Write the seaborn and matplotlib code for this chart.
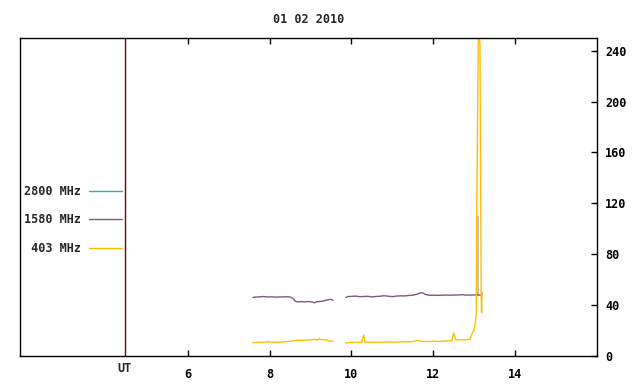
import matplotlib
matplotlib.use("Agg")
import matplotlib.pyplot as plt
import matplotlib.transforms as mtransforms
from matplotlib.lines import Line2D
import pandas as pd
import seaborn as sns

sns.set_style("white")
plt.rcParams['font.family'] = ['DejaVu Sans Mono']
plt.rcParams['font.weight'] = 'bold'

# 1580 MHz, two recording blocks (hours UT, sfu)
t1580_a = [7.59, 7.65, 7.75, 7.85, 7.95, 8.05, 8.15, 8.25, 8.35, 8.45, 8.52, 8.58, 8.62,
           8.68, 8.75, 8.85, 8.95, 9.05, 9.10, 9.15, 9.25, 9.35, 9.42, 9.50, 9.55]
v1580_a = [46.0, 46.3, 46.5, 46.8, 46.4, 46.5, 46.3, 46.4, 46.5, 46.6, 46.2, 45.0, 43.2,
           42.5, 42.8, 42.6, 42.8, 42.4, 41.8, 42.7, 42.9, 43.5, 44.3, 44.5, 43.8]
t1580_b = [9.86, 9.92, 10.0, 10.1, 10.2, 10.3, 10.4, 10.5, 10.6, 10.7, 10.8, 10.9, 11.0,
           11.1, 11.2, 11.3, 11.4, 11.5, 11.6, 11.7, 11.75, 11.8, 11.9, 12.0, 12.1, 12.2,
           12.3, 12.4, 12.5, 12.6, 12.7, 12.8, 12.9, 13.0, 13.1, 13.15, 13.2]
v1580_b = [46.0, 46.8, 46.9, 47.1, 46.6, 46.8, 46.9, 46.5, 46.8, 47.0, 47.4, 47.0, 46.7,
           47.1, 47.3, 47.2, 47.6, 47.8, 48.6, 49.8, 49.5, 48.5, 47.7, 47.8, 47.7, 47.8,
           47.9, 47.8, 47.9, 48.0, 48.2, 47.9, 47.9, 48.0, 48.0, 47.8, 48.5]

# 403 MHz
t403_a = [7.59, 7.65, 7.75, 7.85, 7.95, 8.05, 8.15, 8.25, 8.35, 8.45, 8.55, 8.62, 8.70,
          8.80, 8.90, 9.00, 9.10, 9.15, 9.20, 9.30, 9.40, 9.45, 9.55]
v403_a = [10.4, 10.6, 10.9, 10.7, 11.2, 10.9, 11.0, 10.8, 11.2, 11.4, 11.6, 12.3, 12.4,
          12.3, 12.5, 12.6, 13.2, 12.5, 13.4, 12.8, 12.6, 11.8, 11.5]
t403_b = [9.86, 9.95, 10.05, 10.15, 10.25, 10.30, 10.33, 10.45, 10.6, 10.75, 10.9, 11.05,
          11.2, 11.35, 11.5, 11.6, 11.7, 11.85, 12.0, 12.15, 12.3, 12.45, 12.5, 12.55,
          12.7, 12.8, 12.9, 12.95, 13.0, 13.03, 13.05, 13.06, 13.10, 13.12, 13.14, 13.155,
          13.17, 13.18, 13.19]
v403_b = [10.3, 10.6, 10.7, 10.8, 10.7, 16.5, 11.0, 10.8, 10.9, 10.8, 11.1, 10.8,
          11.2, 11.0, 11.4, 12.3, 11.6, 11.3, 11.6, 11.4, 11.8, 12.0, 18.0, 12.6,
          12.8, 12.6, 13.3, 18.0, 20.5, 27.0, 34.0, 108.0, 252.0, 255.0, 245.0, 145.0,
          48.0, 34.0, 50.0]

# 2800 MHz (only the short excursion is visible)
t2800 = [13.08, 13.09, 13.10]
v2800 = [48.0, 110.0, 48.0]

frames = []
for name, seg, t, v in [("1580", 0, t1580_a, v1580_a), ("1580", 1, t1580_b, v1580_b),
                        ("403", 0, t403_a, v403_a), ("403", 1, t403_b, v403_b),
                        ("2800", 0, t2800, v2800)]:
    frames.append(pd.DataFrame({"ut": t, "flux": v, "freq": name, "seg": seg}))
df = pd.concat(frames, ignore_index=True)

colors = {"2800": "#c4c4c4", "1580": "#7b5b7b", "403": "#ffbf00"}

fig = plt.figure(figsize=(6.4, 3.84), dpi=100)
ax = fig.add_axes([20 / 640, 1 - 356 / 384, (597 - 20) / 640, (356 - 38) / 384])

for name in ["2800", "1580", "403"]:
    sub = df[df["freq"] == name]
    sns.lineplot(data=sub, x="ut", y="flux", units="seg", estimator=None, sort=False,
                 color=colors[name], linewidth=1.0, ax=ax, legend=False)

ax.axvline(4.46, color="#800000", linewidth=1.0)

ax.set_xlim(1.9, 16.0)
ax.set_ylim(0, 250)
ax.set_xlabel("")
ax.set_ylabel("")
ax.set_xticks([6, 8, 10, 12, 14])
ax.set_yticks([0, 40, 80, 120, 160, 200, 240])
ax.yaxis.tick_right()
ax.tick_params(axis="x", direction="in", length=4, width=1, top=True, bottom=True,
               labelsize=8.5, pad=9, colors="black")
ax.tick_params(axis="y", direction="in", length=4, width=1, right=True, left=False,
               labelsize=8.5, pad=6, colors="black")
for lab in ax.get_xticklabels() + ax.get_yticklabels():
    lab.set_fontweight("bold")
for s in ax.spines.values():
    s.set_color("black")
    s.set_linewidth(1.0)

trans = mtransforms.blended_transform_factory(ax.transData, ax.transAxes)
ax.text(4.46, -0.02, "UT", transform=trans, ha="center", va="top",
        fontsize=8.5, fontweight="bold")

ax.set_title("01 02 2010", fontsize=8.5, fontweight="bold", pad=11)

handles = [Line2D([], [], color="#20b0c0", lw=1.0),
           Line2D([], [], color=colors["1580"], lw=1.0),
           Line2D([], [], color=colors["403"], lw=1.0)]
labels = ["2800 MHz", "1580 MHz", " 403 MHz"]
leg = ax.legend(handles, labels, loc="upper left", bbox_to_anchor=(-0.012, 0.572),
                frameon=False, markerfirst=False, handlelength=2.8, handletextpad=0.7,
                labelspacing=1.32, prop={"size": 8.5, "weight": "bold"})

fig.savefig("out.png", dpi=100)
